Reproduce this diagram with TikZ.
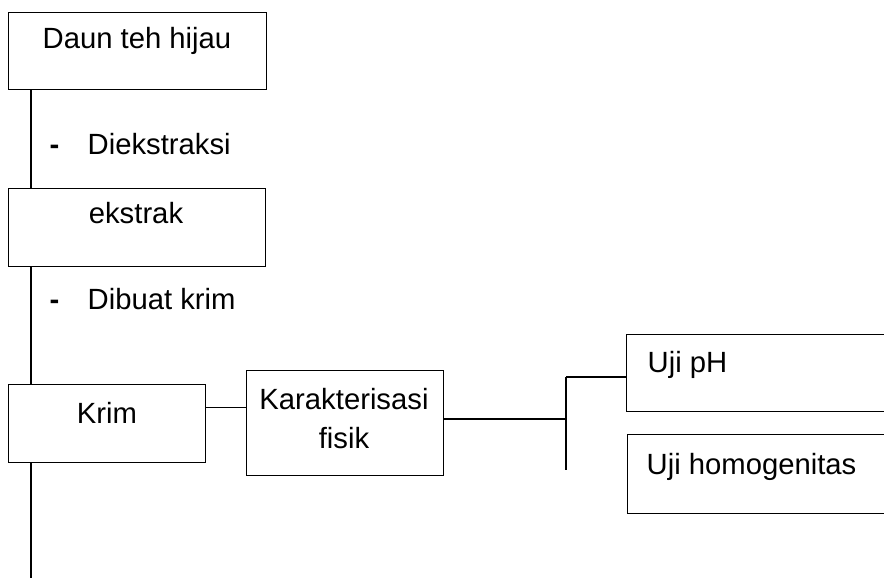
\documentclass[tikz,border=0pt]{standalone}
\usepackage{fontspec}
\setmainfont{Liberation Sans}
\usepackage{tikz}
\newcommand{\flowunit}{0.025cm}
\newcommand{\flowfont}{\fontsize{20.8pt}{27.7pt}\selectfont}

\begin{document}
\begin{tikzpicture}[x=\flowunit,y=-\flowunit,line width=1pt]
	\useasboundingbox (0,0) rectangle (884,578);
	\clip (0,0) rectangle (884,578);
			\begin{scope}[shape=rectangle,inner sep=0pt]
			\tikzstyle{every node}=[font=\flowfont]
			\tikzstyle{box}=[draw,anchor=north west]
			% boxes
			\node[box,minimum width=258*\flowunit,minimum height=77*\flowunit] (daun) at (8,12) {};
			\node[box,minimum width=257*\flowunit,minimum height=78*\flowunit] (ekstrak) at (8,188) {};
			\node[box,minimum width=197*\flowunit,minimum height=78*\flowunit] (krim) at (8,384) {};
			\node[box,minimum width=197*\flowunit,minimum height=105*\flowunit] (karakter) at (246,370) {};
			\node[box,minimum width=300*\flowunit,minimum height=77*\flowunit] (ujiph) at (626,334) {};
			\node[box,minimum width=300*\flowunit,minimum height=79*\flowunit] (ujihomo) at (627,434) {};
			% texts
			\node[anchor=base] (daunlbl) at (137,49) {Daun teh hijau};
			\node[anchor=base west] (dash1) at (49,155) {\textbf{-}};
			\node[anchor=base west] (ekstraksi) at (87,155) {Diekstraksi};
			\node[anchor=base] (ekstraklbl) at (136,223) {ekstrak};
			\node[anchor=base west] (dash2) at (49,309) {\textbf{-}};
			\node[anchor=base west] (dibuat) at (87,309) {Dibuat krim};
			\node[anchor=base] (krimlbl) at (107,423) {Krim};
			\node[align=center] (karakterlbl) at (344,419) {Karakterisasi\\fisik};
			\node[anchor=base west] (ujiphlbl) at (647,372) {Uji pH};
			\node[anchor=base west] (ujihomolbl) at (646,474) {Uji homogenitas};
			% lines
			\coordinate (spine) at (31,0);
			\coordinate (spineend) at (31,578);
			\coordinate (fork) at (566,419);
			\coordinate (forktop) at (566,377);
			\coordinate (forkbot) at (566,470);
			\draw [-] (daun.south -| spine) -- (ekstrak.north -| spine);
			\draw [-] (ekstrak.south -| spine) -- (krim.north -| spine);
			\draw [-] (krim.south -| spine) -- (spineend);
			\draw [-] ([yshift=16*\flowunit]krim.east) -- ([yshift=16*\flowunit]krim.east -| karakter.west);
			\draw [-] (karakter.east |- fork) -- (fork);
			\draw [-] (forktop) -- (forkbot);
			\draw [-] (forktop) -- (forktop -| ujiph.west);
			\end{scope}
\end{tikzpicture}
\end{document}
